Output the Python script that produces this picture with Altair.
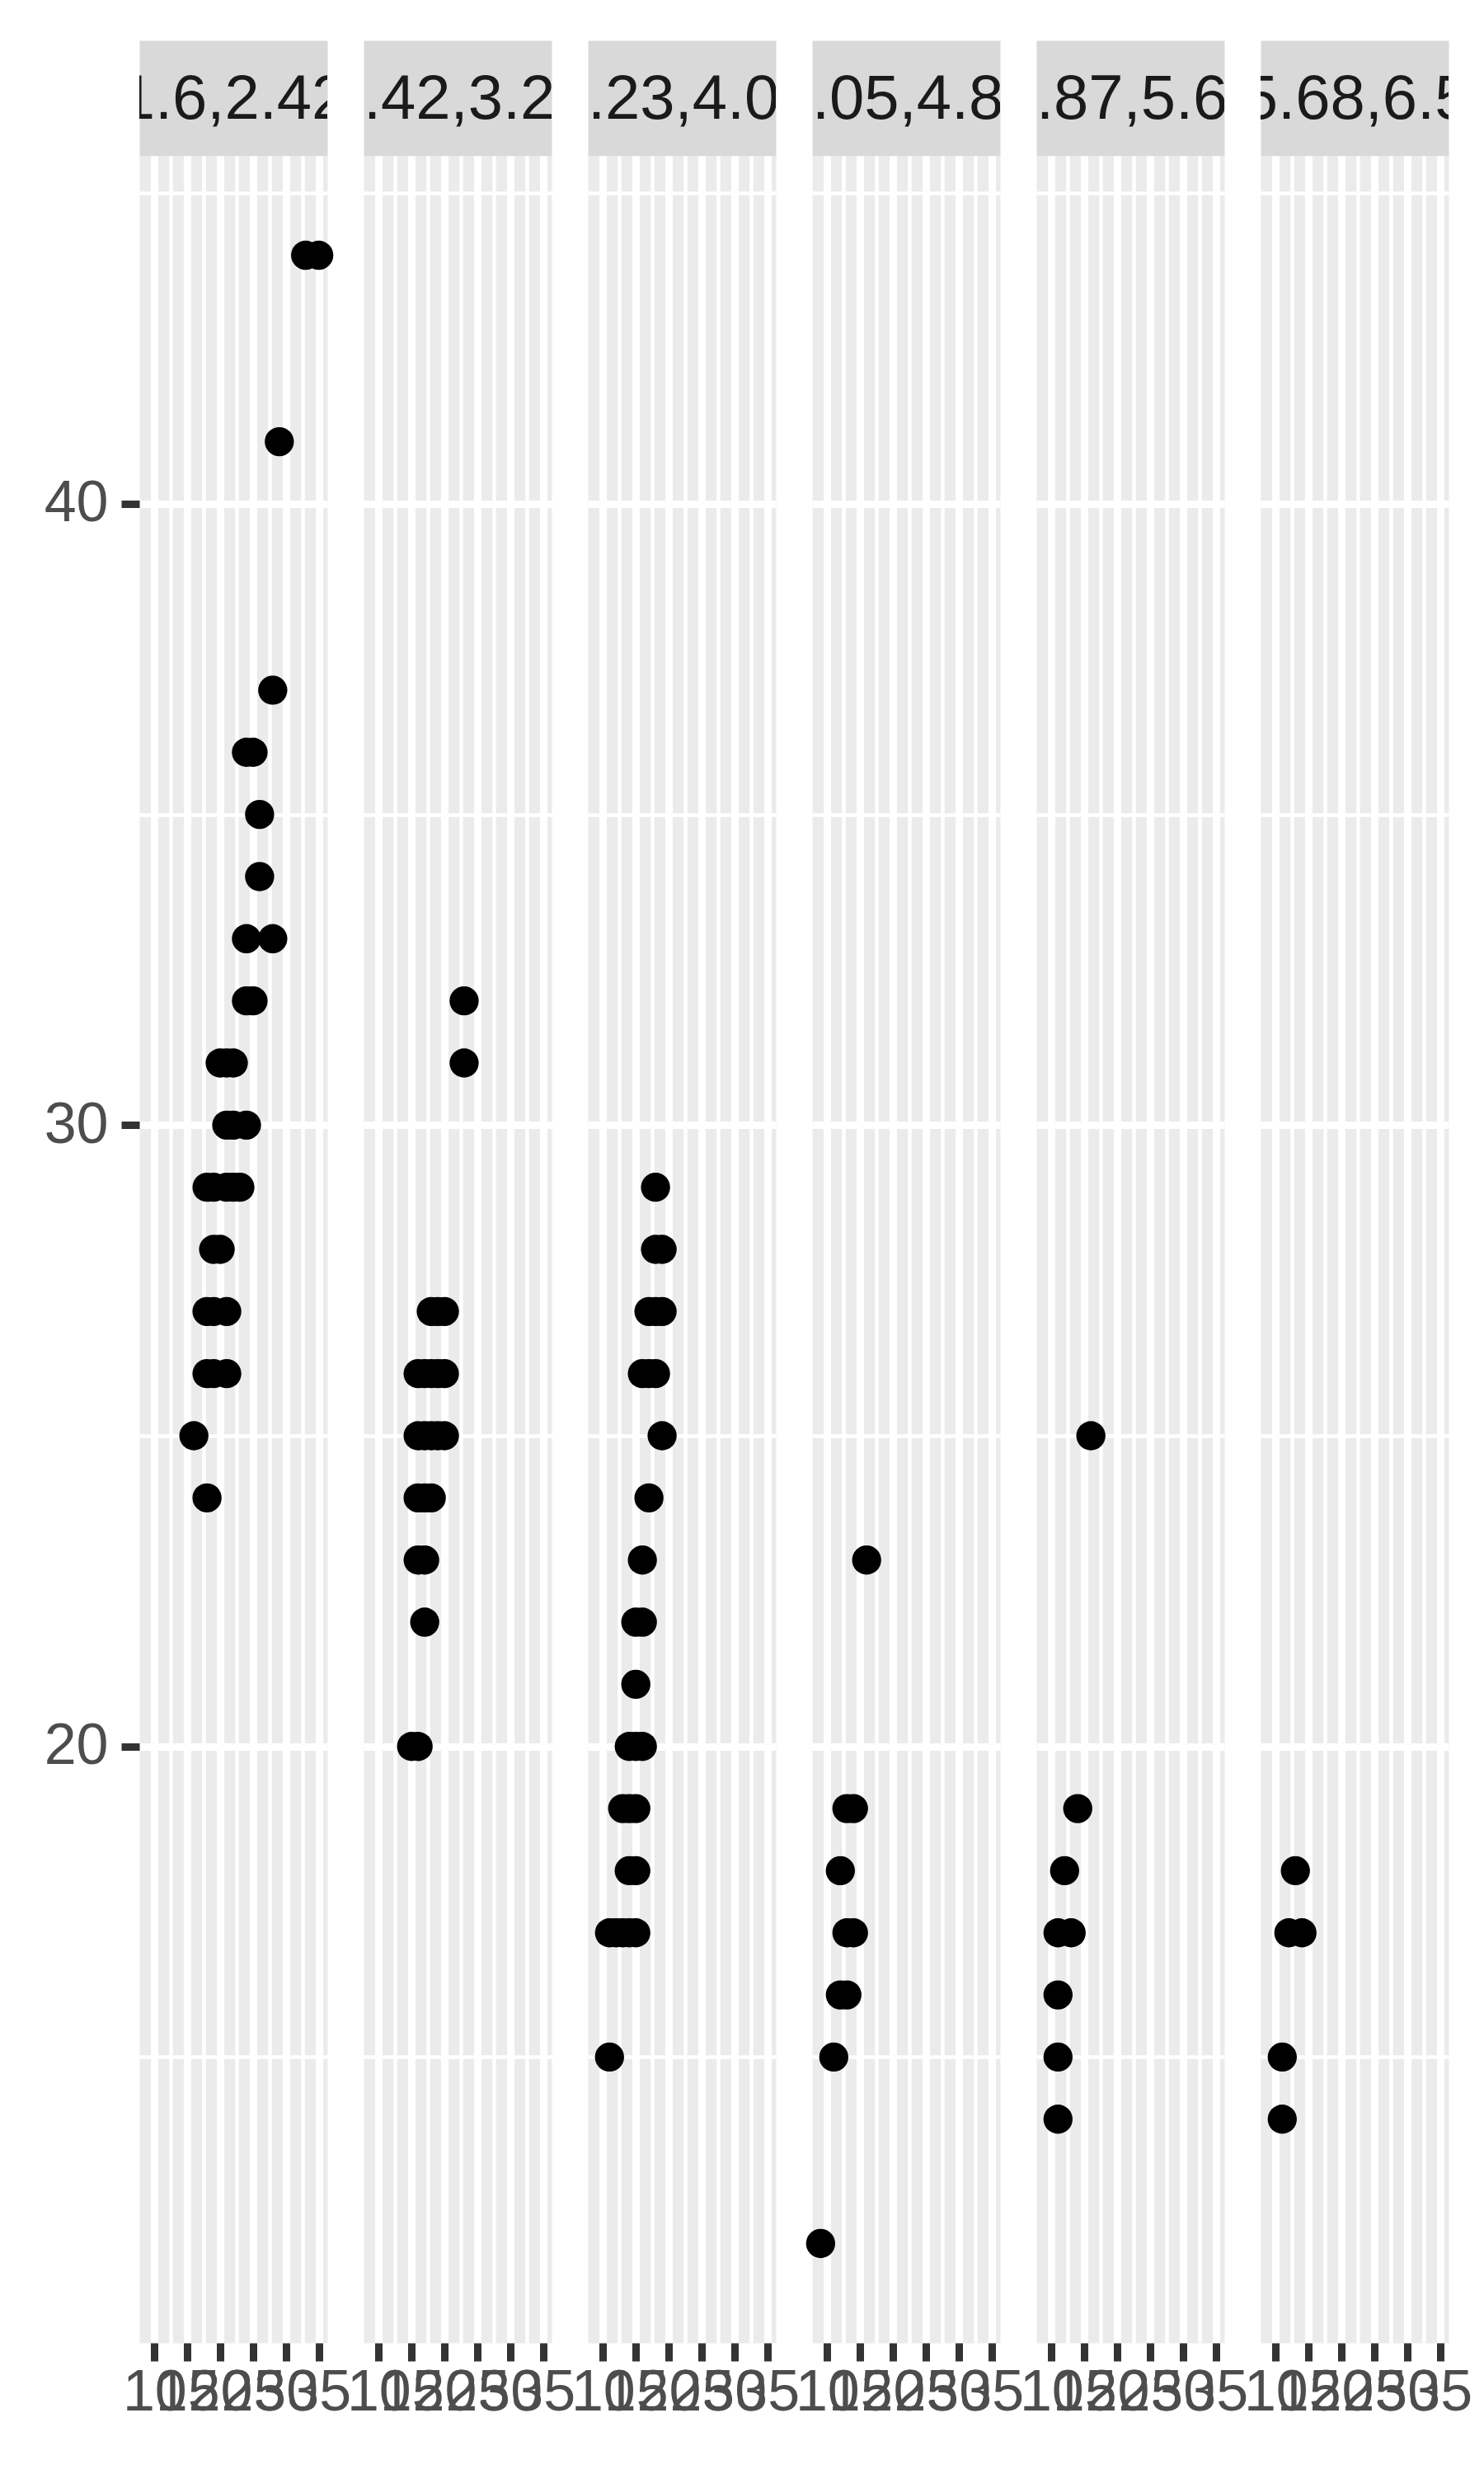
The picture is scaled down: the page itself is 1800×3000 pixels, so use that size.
import altair as alt
import pandas as pd

# facet labels (cut_interval of displ)
bins = ["[1.6,2.42]", "(2.42,3.23]", "(3.23,4.05]", "(4.05,4.87]", "(4.87,5.68]", "(5.68,6.5]"]

# city / highway mpg pairs read per facet
p1_cty = [33, 35, 29, 28, 24, 25, 26, 26, 28, 24, 24, 25, 20, 21, 22, 21, 22, 24, 18, 19, 21, 22, 23, 19, 20, 18, 19, 21, 18, 19, 21, 16, 18]
p1_hwy = [44, 44, 41, 37, 36, 36, 35, 34, 33, 33, 32, 32, 31, 31, 31, 30, 30, 30, 29, 29, 29, 29, 29, 28, 28, 27, 27, 27, 26, 26, 26, 25, 24]

p2_cty = [23, 23, 18, 19, 20, 16, 17, 18, 19, 20, 16, 17, 18, 19, 20, 16, 17, 18, 16, 17, 17, 15, 16]
p2_hwy = [32, 31, 27, 27, 27, 26, 26, 26, 26, 26, 25, 25, 25, 25, 25, 24, 24, 24, 23, 23, 22, 20, 20]

p3_cty = [18, 18, 19, 17, 18, 19, 16, 17, 18, 19, 17, 16, 15, 16, 15, 14, 15, 16, 13, 14, 15, 14, 15, 11, 12, 13, 14, 15, 11]
p3_hwy = [29, 28, 28, 27, 27, 27, 26, 26, 26, 25, 24, 23, 22, 22, 21, 20, 20, 20, 19, 19, 19, 18, 18, 17, 17, 17, 17, 17, 15]

p4_cty = [16, 13, 14, 12, 13, 14, 12, 13, 11, 9]
p4_hwy = [23, 19, 19, 18, 17, 17, 16, 16, 15, 12]

p5_cty = [16, 14, 12, 11, 13, 11, 11, 11]
p5_hwy = [25, 19, 18, 17, 17, 16, 15, 14]

p6_cty = [13, 12, 14, 11, 11]
p6_hwy = [18, 17, 17, 15, 14]

ctys = [p1_cty, p2_cty, p3_cty, p4_cty, p5_cty, p6_cty]
hwys = [p1_hwy, p2_hwy, p3_hwy, p4_hwy, p5_hwy, p6_hwy]

rows = []
for b, cs, hs in zip(bins, ctys, hwys):
    for c, h in zip(cs, hs):
        rows.append({"bin": b, "cty": c, "hwy": h})
df = pd.DataFrame(rows)

x_vals = [10, 12.5, 15, 17.5, 20, 22.5, 25, 27.5, 30, 32.5, 35]
y_vals = [15, 20, 25, 30, 35, 40, 45]

PW, PH, SH = 228, 2652, 140
FS = 70
SFS = 76
FONT = "Liberation Sans"
MAJ, MIN = 9, 4.5


def x_axis():
    return alt.Axis(
        values=x_vals,
        title=None,
        domain=False,
        labelExpr="datum.value % 5 == 0 ? format(datum.value, 'd') : ''",
        labelFontSize=FS,
        labelFont=FONT,
        labelColor="#4D4D4D",
        labelPadding=4,
        labelOverlap=False,
        labelFlush=False,
        labelBound=False,
        labelLimit=0,
        tickSize=22,
        tickWidth=MAJ,
        tickColor="#333333",
        tickOpacity={"condition": {"test": "datum.value % 5 == 0", "value": 1}, "value": 0},
        gridColor="white",
        gridOpacity=1,
        gridWidth={"condition": {"test": "datum.value % 5 == 0", "value": MAJ}, "value": MIN},
    )


def y_axis(show):
    kw = dict(
        values=y_vals,
        title=None,
        domain=False,
        gridColor="white",
        gridOpacity=1,
        gridWidth={"condition": {"test": "datum.value % 10 == 0", "value": MAJ}, "value": MIN},
    )
    if show:
        kw.update(
            labelExpr="datum.value % 10 == 0 ? format(datum.value, 'd') : ''",
            labelFontSize=FS,
            labelFont=FONT,
            labelColor="#4D4D4D",
            labelPadding=16,
            labelOverlap=False,
            tickSize=22,
            tickWidth=MAJ,
            tickColor="#333333",
            tickOpacity={"condition": {"test": "datum.value % 10 == 0", "value": 1}, "value": 0},
        )
    else:
        kw.update(labels=False, ticks=False)
    return alt.Axis(**kw)


strips = []
panels = []
for i, b in enumerate(bins):
    strip = (
        alt.Chart(pd.DataFrame({"label": [b]}))
        .mark_text(fontSize=SFS, font=FONT, color="#1A1A1A", clip=True, baseline="middle", align="center")
        .encode(text="label:N", x=alt.value(PW / 2), y=alt.value(SH / 2 + 2))
        .properties(width=PW, height=SH, view=alt.ViewBackground(fill="#D9D9D9", stroke="transparent"))
    )
    panel = (
        alt.Chart(df)
        .transform_filter(alt.datum.bin == b)
        .mark_circle(size=1250, color="black", opacity=1)
        .encode(
            x=alt.X("cty:Q", scale=alt.Scale(domain=[7.7, 36.3], nice=False, zero=False), axis=x_axis()),
            y=alt.Y("hwy:Q", scale=alt.Scale(domain=[10.4, 45.6], nice=False, zero=False), axis=y_axis(i == 0)),
        )
        .properties(width=PW, height=PH, view=alt.ViewBackground(fill="#EBEBEB", stroke="transparent"))
    )
    strips.append(strip)
    panels.append(panel)

chart = alt.concat(
    *strips, *panels, columns=6, spacing={"row": 0, "column": 44}, bounds="flush"
).properties(
    padding={"left": 44, "top": 40, "right": 5, "bottom": 5}
).configure(background="white")

chart.save("out.html", embed_options={"renderer": "svg", "actions": False})
